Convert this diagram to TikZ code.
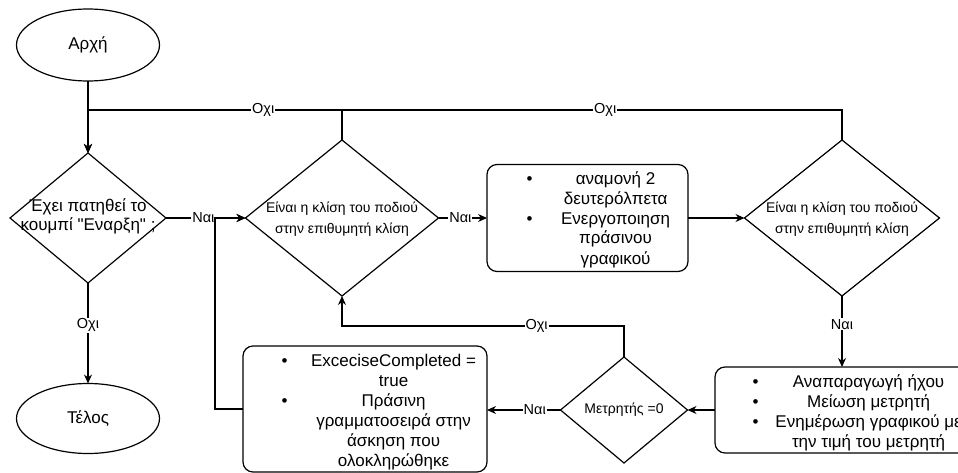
\documentclass[tikz,border=0pt]{standalone}
\usepackage{fontspec}
\setmainfont{Liberation Sans}[Ligatures=TeXOff]
\usepackage{array}
\usetikzlibrary{shapes.geometric,arrows.meta}
\newcolumntype{B}{>{\centering\arraybackslash}p{10pt}}
\newcolumntype{T}[1]{>{\centering\arraybackslash}p{#1}}

\begin{document}
\begin{tikzpicture}[x=1pt,y=-1pt,line width=1.2pt,
    terminal/.style={draw,ellipse,minimum width=143pt,minimum height=72pt,inner sep=0pt,outer sep=0pt,font=\fontsize{17}{20}\selectfont},
    decision/.style={draw,diamond,inner sep=0pt,outer sep=0pt},
    dtext/.style={align=center,inner sep=0pt,font=\fontsize{14}{21}\selectfont},
    action/.style={draw,rounded corners=10pt,inner sep=0pt,outer sep=0pt},
    atext/.style={anchor=west,inner sep=0pt,font=\fontsize{17}{20}\selectfont},
    lbl/.style={fill=white,inner sep=1pt,font=\fontsize{14.5}{16}\selectfont},
    arr/.style={-{Stealth[length=9pt,width=8pt]}}]
        \useasboundingbox (0,0) rectangle (958,473);
        \coordinate (top) at (88,110);
        \coordinate (back) at (215,218);
        \coordinate (low) at (342,326);

        \node[terminal] (start) at (88,45) {Αρχή};
        \node[terminal,minimum height=70pt] (end) at (88,418.5) {Τέλος};

        \node[decision,minimum width=156pt,minimum height=130pt] (q1) at (88,218) {};
        \node[dtext,font=\fontsize{17}{19}\selectfont] (q1t) at (88,216) {Έχει πατηθεί το\\κουμπί "Εναρξη" ;};
        \node[decision,minimum width=193pt,minimum height=156pt] (q2) at (342,218) {};
        \node[dtext] (q2t) at (342,219) {Είναι η κλίση του ποδιού\\στην επιθυμητή κλίση};
        \node[decision,minimum width=195pt,minimum height=156pt] (q3) at (842,218) {};
        \node[dtext] (q3t) at (842,219) {Είναι η κλίση του ποδιού\\στην επιθυμητή κλίση};
        \node[decision,minimum width=127pt,minimum height=106pt] (q4) at (624,410) {};
        \node[dtext] (q4t) at (624,410) {Μετρητής =0};

        \node[action,minimum width=201pt,minimum height=107pt] (wait) at (587.5,218) {};
        \node[atext] (waitt) at (524,220) {\begin{tabular}{@{}B@{\hspace{16pt}}T{130pt}@{}}
            • & αναμονή 2\\ & δευτερόλπετα\\ • & Ενεργοποιηση\\ & πράσινου\\ & γραφικού
        \end{tabular}};
        \node[action,minimum width=290pt,minimum height=86pt] (sound) at (860,410) {};
        \node[atext] (soundt) at (750,413) {\begin{tabular}{@{}B@{\hspace{8pt}}T{200pt}@{}}
            • & Αναπαραγωγή ήχου\\ • & Μείωση μετρητή\\ • & Ενημέρωση γραφικού με\\ & την τιμή του μετρητή
        \end{tabular}};
        \node[action,minimum width=244pt,minimum height=126pt] (done) at (365,409) {};
        \node[atext] (donet) at (279,412) {\begin{tabular}{@{}B@{\hspace{14pt}}T{180pt}@{}}
            • & ExceciseCompleted =\\ & true\\ • & Πράσινη\\ & γραμματοσειρά στην\\ & άσκηση που\\ & ολοκληρώθηκε
        \end{tabular}};

        \draw[arr] (start.south) -- (q1.north);
        \draw[arr] (q3.north) -- (q3.north |- top) -- node[lbl,pos=0.314] (no3) {Οχι} (top) -- (q1.north);
        \draw[arr] (q2.north) -- (q2.north |- top) -- node[lbl,pos=0.31] (no2) {Οχι} (top) -- (q1.north);
        \draw[arr] (q1.east) -- node[lbl,pos=0.47] (yes1) {Ναι} (q2.west);
        \draw[arr] (done.west) -| (back) -- (q2.west);
        \draw[arr] (q2.east) -- node[lbl,pos=0.45] (yes2) {Ναι} (wait.west);
        \draw[arr] (wait.east) -- (q3.west);
        \draw[arr] (q3.south) -- node[lbl,pos=0.4] (yes3) {Ναι} (q3.south |- sound.north);
        \draw[arr] (sound.west) -- (q4.east);
        \draw[arr] (q4.west) -- node[lbl,pos=0.35] (yes4) {Ναι} (q4.west -| done.east);
        \draw[arr] (q4.north) |- node[lbl,pos=0.655] (no4) {Οχι} (low) -- (q2.south);
        \draw[arr] (q1.south) -- node[lbl,pos=0.42] (no1) {Οχι} (end.north);
    \end{tikzpicture}
\end{document}
